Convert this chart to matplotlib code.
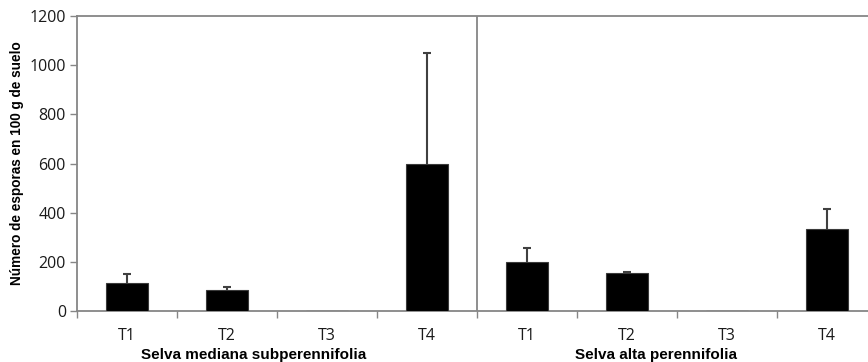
import matplotlib
matplotlib.use("Agg")
import matplotlib.pyplot as plt
import numpy as np

plt.rcParams["font.family"] = ["Open Sans", "DejaVu Sans"]

# data (spores per 100 g of soil)
groups = ["Selva mediana subperennifolia", "Selva alta perennifolia"]
treatments = ["T1", "T2", "T3", "T4"]
mediana_mean = [115, 85, 0, 597]
mediana_err = [35, 11, 0, 451]
alta_mean = [198, 153, 0, 334]
alta_err = [57, 7, 0, 82]
y_ticks = [0, 200, 400, 600, 800, 1000, 1200]

axis_gray = "#868686"

means = np.array(mediana_mean + alta_mean)
errs = np.array(mediana_err + alta_err)
x = np.arange(len(means))

fig = plt.figure(figsize=(8.68, 3.62), dpi=100)
ax = fig.add_axes([77 / 868, 1 - 311 / 362, 800 / 868, 295 / 362])

ax.bar(x, means, width=0.42, color="black", edgecolor="#3a3a3a",
       linewidth=0.8, zorder=3)
has_err = errs > 0
eb = ax.errorbar(x[has_err], means[has_err],
                 yerr=[np.zeros(has_err.sum()), errs[has_err]],
                 fmt="none", ecolor="#404040", elinewidth=1.5,
                 capsize=3, capthick=1.5, zorder=4)
# only the upper half of the error bar is shown
eb[1][0].set_visible(False)

ax.set_xlim(-0.5, len(means) - 0.5)
ax.set_ylim(0, 1200)
ax.set_yticks(y_ticks)

# category labels centred, tick marks on the boundaries
ax.set_xticks(x)
ax.set_xticklabels(treatments * 2)
ax.set_xticks(np.arange(-0.5, len(means)), minor=True)
ax.tick_params(axis="x", which="major", length=0, pad=12,
               labelsize=11.5, labelcolor="#1a1a1a")
ax.tick_params(axis="x", which="minor", length=5, width=1, color=axis_gray,
               direction="out")
ax.tick_params(axis="y", length=5, width=1, color=axis_gray, pad=3,
               labelsize=11.5, labelcolor="#1a1a1a")

for side in ["left", "top", "bottom", "right"]:
    ax.spines[side].set_color(axis_gray)
    ax.spines[side].set_linewidth(1.3)

# divider between the two forest types
ax.axvline(3.5, color=axis_gray, lw=1.3, zorder=2)

ax.set_ylabel("Número de esporas en 100 g de suelo", fontsize=9.8,
              fontweight="bold", family="Liberation Sans")
ax.yaxis.set_label_coords(-0.066, 0.5)

group_x = [1.27, 5.29]
for gx, name in zip(group_x, groups):
    ax.text(gx, -0.15, name, transform=ax.get_xaxis_transform(),
            ha="center", va="center", fontsize=11, fontweight="bold",
            family="Liberation Sans", clip_on=False)

fig.savefig("out.png", dpi=100)
